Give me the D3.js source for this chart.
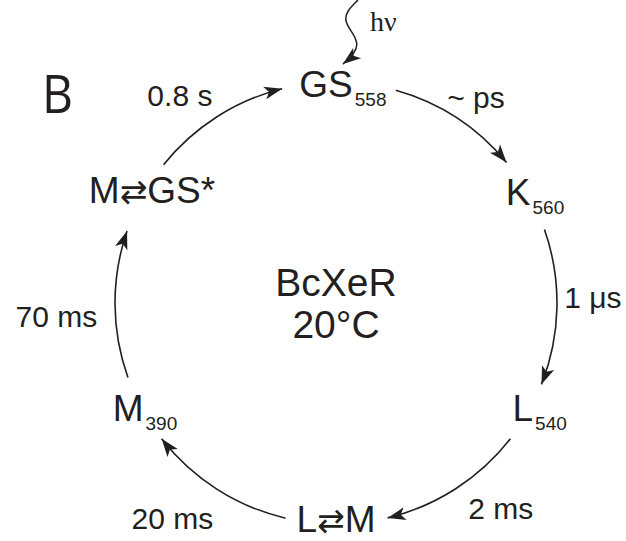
<!DOCTYPE html>
<html><head><meta charset="utf-8">
<script src="https://cdn.jsdelivr.net/npm/d3@7"></script>
<style>body{margin:0;background:#fff}</style>
</head><body>
<script>
// ---- data ----
const states = ["GS", "K", "L", "L⇄M", "M", "M⇄GS*"];
const subscripts = ["558", "560", "540", "", "390", ""];
const rates = ["~ ps", "1 μs", "2 ms", "20 ms", "70 ms", "0.8 s"];
const sample = ["BcXeR", "20°C"];
const panelLabel = "B";
const lightLabel = "hν";

// ---- layout (degrees clockwise from top, distances from cycle centre) ----
const arcStart = [15.7, 70.6, 127.9, 193.2, 250.3, 308.7];
const arcEnd   = [50.5, 111.6, 166.5, 232.1, 289.0, 345.9];
const stateAng  = [1.8, 60.8, 117.2, 180, 241.2, 301.6];
const stateDist = [219, 228, 229, 216, 218, 216];
const rateAng   = [34.2, 88.7, 141.2, 217.3, 267.3, 323.1];
const rateDist  = [249, 257, 263, 270, 280, 260];

const W = 626, H = 541, cx = 336, cy = 303, R = 221;
const ink = "#231f20";
const ang = d3.scaleLinear().domain([0, 360]).range([0, 2 * Math.PI]);
const px = (a, d) => cx + d * Math.sin(ang(a));
const py = (a, d) => cy - d * Math.cos(ang(a));

const svg = d3.select("body").append("svg").attr("width", W).attr("height", H);

svg.append("defs").append("marker")
  .attr("id", "head").attr("markerUnits", "userSpaceOnUse")
  .attr("viewBox", "-19 -8 20 16").attr("refX", 0).attr("refY", 0)
  .attr("markerWidth", 20).attr("markerHeight", 16).attr("orient", "auto")
  .append("path").attr("d", "M0,0 L-18,-6.5 L-13.5,0 L-18,6.5 Z").attr("fill", ink);

// arcs
svg.selectAll("path.arc").data(arcStart).join("path").attr("class", "arc")
  .attr("d", (s, i) => {
    const p = d3.path();
    p.arc(cx, cy, R, ang(s) - Math.PI / 2, ang(arcEnd[i]) - Math.PI / 2, false);
    return p.toString();
  })
  .attr("fill", "none").attr("stroke", ink).attr("stroke-width", 1.6)
  .attr("marker-end", "url(#head)");

// state labels
const st = svg.selectAll("text.state").data(states).join("text").attr("class", "state")
  .attr("x", (d, i) => px(stateAng[i], stateDist[i]))
  .attr("y", (d, i) => py(stateAng[i], stateDist[i]) + 0.36 * 37)
  .attr("text-anchor", "middle")
  .attr("font-family", "Liberation Sans, Arial, sans-serif")
  .attr("font-size", 37).attr("fill", ink);
st.each(function (d, i) {
  const t = d3.select(this);
  const parts = d.split("⇄");
  parts.forEach((p, j) => {
    if (j > 0) t.append("tspan").attr("font-family", "DejaVu Sans").attr("font-size", 33).attr("dx", 0).text("⇄");
    t.append("tspan").attr("dx", 0).text(p);
  });
  if (subscripts[i]) t.append("tspan").attr("font-size", 19).attr("dx", 2).attr("dy", 9).text(subscripts[i]);
});

// rate labels
svg.selectAll("text.rate").data(rates).join("text").attr("class", "rate")
  .attr("x", (d, i) => px(rateAng[i], rateDist[i]))
  .attr("y", (d, i) => py(rateAng[i], rateDist[i]) + 0.36 * 30)
  .attr("text-anchor", "middle")
  .attr("font-family", "Liberation Sans, Arial, sans-serif")
  .attr("font-size", 30).attr("fill", ink).text(d => d);

// centre
svg.selectAll("text.sample").data(sample).join("text").attr("class", "sample")
  .attr("x", cx).attr("y", (d, i) => cy - 7 + i * 42)
  .attr("text-anchor", "middle")
  .attr("font-family", "Liberation Sans, Arial, sans-serif")
  .attr("font-size", 39).attr("fill", ink).text(d => d);

// panel label
svg.append("text").attr("x", 42).attr("y", 113)
  .attr("font-family", "Open Sans, sans-serif").attr("font-size", 53)
  .attr("textLength", 31).attr("lengthAdjust", "spacingAndGlyphs")
  .attr("fill", ink).text(panelLabel);

// light excitation (wavy arrow) relative to GS node
const gx = px(stateAng[0], stateDist[0]), gy = py(stateAng[0], stateDist[0]);
svg.append("path")
  .attr("d", `M${gx+15},${gy-84} C${gx+9},${gy-78} ${gx+2},${gy-72} ${gx+3},${gy-64} C${gx+4},${gy-56} ${gx+13},${gy-50} ${gx+14},${gy-40} C${gx+14},${gy-34} ${gx+9},${gy-27} ${gx},${gy-20}`)
  .attr("fill", "none").attr("stroke", ink).attr("stroke-width", 1.5)
  .attr("marker-end", "url(#head)");
svg.append("text").attr("x", gx + 27).attr("y", gy - 53)
  .attr("font-family", "Liberation Serif, serif").attr("font-size", 28)
  .attr("fill", ink).text(lightLabel);
</script>
</body></html>
